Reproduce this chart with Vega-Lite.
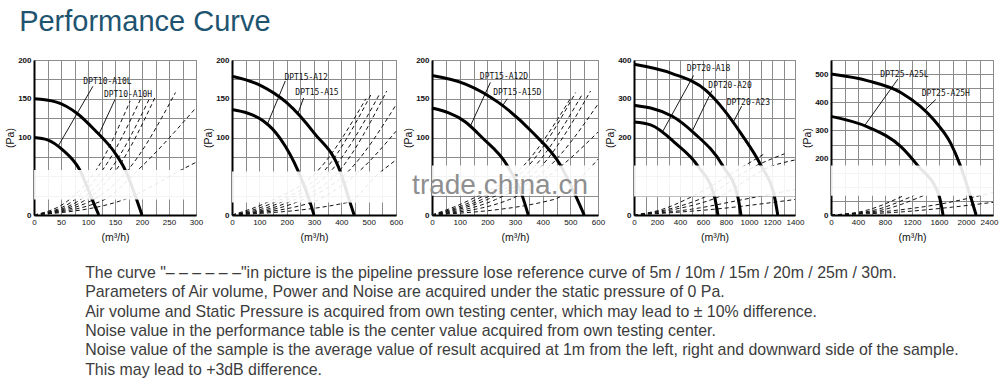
{
  "$schema": "https://vega.github.io/schema/vega-lite/v6.json",
  "background": "white",
  "padding": {"left": 5, "top": 7, "right": 0, "bottom": 0},
  "title": {"text": "Performance Curve", "anchor": "start", "frame": "bounds", "font": "Liberation Sans", "fontSize": 29, "fontWeight": "normal", "color": "#1e5470", "dx": 14, "dy": 2, "offset": 21},
  "datasets": {
    "curves": [
      {"panel": 1, "name": "A10H", "q": 0, "p": 150}, {"panel": 1, "name": "A10H", "q": 40, "p": 146}, {"panel": 1, "name": "A10H", "q": 80, "p": 131}, {"panel": 1, "name": "A10H", "q": 112, "p": 110}, {"panel": 1, "name": "A10H", "q": 150, "p": 80}, {"panel": 1, "name": "A10H", "q": 169, "p": 58}, {"panel": 1, "name": "A10H", "q": 191, "p": 18}, {"panel": 1, "name": "A10H", "q": 200, "p": 0},
      {"panel": 1, "name": "A10L", "q": 0, "p": 100}, {"panel": 1, "name": "A10L", "q": 25, "p": 97}, {"panel": 1, "name": "A10L", "q": 53, "p": 84}, {"panel": 1, "name": "A10L", "q": 84, "p": 59}, {"panel": 1, "name": "A10L", "q": 109, "p": 18}, {"panel": 1, "name": "A10L", "q": 120, "p": 0},
      {"panel": 2, "name": "A15", "q": 0, "p": 179}, {"panel": 2, "name": "A15", "q": 100, "p": 168}, {"panel": 2, "name": "A15", "q": 200, "p": 145}, {"panel": 2, "name": "A15", "q": 300, "p": 106}, {"panel": 2, "name": "A15", "q": 396, "p": 56}, {"panel": 2, "name": "A15", "q": 432, "p": 16}, {"panel": 2, "name": "A15", "q": 447, "p": 0},
      {"panel": 2, "name": "A12", "q": 0, "p": 136}, {"panel": 2, "name": "A12", "q": 116, "p": 121}, {"panel": 2, "name": "A12", "q": 176, "p": 99}, {"panel": 2, "name": "A12", "q": 243, "p": 56}, {"panel": 2, "name": "A12", "q": 286, "p": 16}, {"panel": 2, "name": "A12", "q": 300, "p": 0},
      {"panel": 3, "name": "A15D", "q": 0, "p": 180}, {"panel": 3, "name": "A15D", "q": 121, "p": 169}, {"panel": 3, "name": "A15D", "q": 241, "p": 145}, {"panel": 3, "name": "A15D", "q": 362, "p": 107}, {"panel": 3, "name": "A15D", "q": 465, "p": 64}, {"panel": 3, "name": "A15D", "q": 519, "p": 25}, {"panel": 3, "name": "A15D", "q": 550, "p": 0},
      {"panel": 3, "name": "A12D", "q": 0, "p": 138}, {"panel": 3, "name": "A12D", "q": 121, "p": 120}, {"panel": 3, "name": "A12D", "q": 181, "p": 100}, {"panel": 3, "name": "A12D", "q": 272, "p": 64}, {"panel": 3, "name": "A12D", "q": 326, "p": 25}, {"panel": 3, "name": "A12D", "q": 348, "p": 0},
      {"panel": 4, "name": "A23", "q": 0, "p": 389}, {"panel": 4, "name": "A23", "q": 333, "p": 365}, {"panel": 4, "name": "A23", "q": 623, "p": 322}, {"panel": 4, "name": "A23", "q": 780, "p": 272}, {"panel": 4, "name": "A23", "q": 931, "p": 210}, {"panel": 4, "name": "A23", "q": 1105, "p": 127}, {"panel": 4, "name": "A23", "q": 1221, "p": 48}, {"panel": 4, "name": "A23", "q": 1250, "p": 0},
      {"panel": 4, "name": "A20", "q": 0, "p": 283}, {"panel": 4, "name": "A20", "q": 333, "p": 255}, {"panel": 4, "name": "A20", "q": 520, "p": 212}, {"panel": 4, "name": "A20", "q": 772, "p": 127}, {"panel": 4, "name": "A20", "q": 902, "p": 48}, {"panel": 4, "name": "A20", "q": 930, "p": 0},
      {"panel": 4, "name": "A18", "q": 0, "p": 240}, {"panel": 4, "name": "A18", "q": 150, "p": 232}, {"panel": 4, "name": "A18", "q": 365, "p": 184}, {"panel": 4, "name": "A18", "q": 554, "p": 127}, {"panel": 4, "name": "A18", "q": 699, "p": 48}, {"panel": 4, "name": "A18", "q": 730, "p": 0},
      {"panel": 5, "name": "A25H", "q": 0, "p": 500}, {"panel": 5, "name": "A25H", "q": 549, "p": 476}, {"panel": 5, "name": "A25H", "q": 1039, "p": 434}, {"panel": 5, "name": "A25H", "q": 1529, "p": 336}, {"panel": 5, "name": "A25H", "q": 1774, "p": 254}, {"panel": 5, "name": "A25H", "q": 1915, "p": 176}, {"panel": 5, "name": "A25H", "q": 2063, "p": 69}, {"panel": 5, "name": "A25H", "q": 2150, "p": 0},
      {"panel": 5, "name": "A25L", "q": 0, "p": 350}, {"panel": 5, "name": "A25L", "q": 549, "p": 312}, {"panel": 5, "name": "A25L", "q": 1039, "p": 242}, {"panel": 5, "name": "A25L", "q": 1283, "p": 176}, {"panel": 5, "name": "A25L", "q": 1600, "p": 69}, {"panel": 5, "name": "A25L", "q": 1660, "p": 0}
    ],
    "pipes": [
      {"panel": 1, "id": "a", "q": 0, "p": 0}, {"panel": 1, "id": "a", "q": 62, "p": 18}, {"panel": 1, "id": "a", "q": 116, "p": 59}, {"panel": 1, "id": "a", "q": 178, "p": 147},
      {"panel": 1, "id": "b", "q": 0, "p": 0}, {"panel": 1, "id": "b", "q": 72, "p": 18}, {"panel": 1, "id": "b", "q": 128, "p": 59}, {"panel": 1, "id": "b", "q": 197, "p": 149},
      {"panel": 1, "id": "c", "q": 0, "p": 0}, {"panel": 1, "id": "c", "q": 82, "p": 18}, {"panel": 1, "id": "c", "q": 141, "p": 58}, {"panel": 1, "id": "c", "q": 213, "p": 149},
      {"panel": 1, "id": "d", "q": 0, "p": 0}, {"panel": 1, "id": "d", "q": 92, "p": 18}, {"panel": 1, "id": "d", "q": 153, "p": 59}, {"panel": 1, "id": "d", "q": 225, "p": 153},
      {"panel": 1, "id": "e", "q": 0, "p": 0}, {"panel": 1, "id": "e", "q": 105, "p": 18}, {"panel": 1, "id": "e", "q": 175, "p": 59}, {"panel": 1, "id": "e", "q": 262, "p": 158},
      {"panel": 1, "id": "f", "q": 0, "p": 0}, {"panel": 1, "id": "f", "q": 125, "p": 18}, {"panel": 1, "id": "f", "q": 194, "p": 59}, {"panel": 1, "id": "f", "q": 297, "p": 136},
      {"panel": 1, "id": "g", "q": 0, "p": 0}, {"panel": 1, "id": "g", "q": 159, "p": 18}, {"panel": 1, "id": "g", "q": 275, "p": 59}, {"panel": 1, "id": "g", "q": 300, "p": 68},
      {"panel": 2, "id": "a", "q": 0, "p": 0}, {"panel": 2, "id": "a", "q": 120, "p": 15}, {"panel": 2, "id": "a", "q": 316, "p": 58}, {"panel": 2, "id": "a", "q": 490, "p": 150},
      {"panel": 2, "id": "b", "q": 0, "p": 0}, {"panel": 2, "id": "b", "q": 145, "p": 15}, {"panel": 2, "id": "b", "q": 340, "p": 58}, {"panel": 2, "id": "b", "q": 511, "p": 157},
      {"panel": 2, "id": "c", "q": 0, "p": 0}, {"panel": 2, "id": "c", "q": 170, "p": 15}, {"panel": 2, "id": "c", "q": 365, "p": 58}, {"panel": 2, "id": "c", "q": 540, "p": 156},
      {"panel": 2, "id": "d", "q": 0, "p": 0}, {"panel": 2, "id": "d", "q": 195, "p": 15}, {"panel": 2, "id": "d", "q": 395, "p": 58}, {"panel": 2, "id": "d", "q": 566, "p": 160},
      {"panel": 2, "id": "e", "q": 0, "p": 0}, {"panel": 2, "id": "e", "q": 225, "p": 15}, {"panel": 2, "id": "e", "q": 430, "p": 58}, {"panel": 2, "id": "e", "q": 600, "p": 142},
      {"panel": 2, "id": "f", "q": 0, "p": 0}, {"panel": 2, "id": "f", "q": 280, "p": 15}, {"panel": 2, "id": "f", "q": 470, "p": 58}, {"panel": 2, "id": "f", "q": 600, "p": 108},
      {"panel": 2, "id": "g", "q": 0, "p": 0}, {"panel": 2, "id": "g", "q": 420, "p": 16}, {"panel": 2, "id": "g", "q": 535, "p": 53}, {"panel": 2, "id": "g", "q": 600, "p": 71},
      {"panel": 3, "id": "a", "q": 0, "p": 0}, {"panel": 3, "id": "a", "q": 140, "p": 20}, {"panel": 3, "id": "a", "q": 332, "p": 64}, {"panel": 3, "id": "a", "q": 500, "p": 150},
      {"panel": 3, "id": "b", "q": 0, "p": 0}, {"panel": 3, "id": "b", "q": 160, "p": 20}, {"panel": 3, "id": "b", "q": 350, "p": 64}, {"panel": 3, "id": "b", "q": 519, "p": 158},
      {"panel": 3, "id": "c", "q": 0, "p": 0}, {"panel": 3, "id": "c", "q": 180, "p": 20}, {"panel": 3, "id": "c", "q": 374, "p": 64}, {"panel": 3, "id": "c", "q": 545, "p": 157},
      {"panel": 3, "id": "d", "q": 0, "p": 0}, {"panel": 3, "id": "d", "q": 200, "p": 20}, {"panel": 3, "id": "d", "q": 398, "p": 64}, {"panel": 3, "id": "d", "q": 573, "p": 160},
      {"panel": 3, "id": "e", "q": 0, "p": 0}, {"panel": 3, "id": "e", "q": 230, "p": 20}, {"panel": 3, "id": "e", "q": 428, "p": 64}, {"panel": 3, "id": "e", "q": 600, "p": 143},
      {"panel": 3, "id": "f", "q": 0, "p": 0}, {"panel": 3, "id": "f", "q": 280, "p": 20}, {"panel": 3, "id": "f", "q": 470, "p": 64}, {"panel": 3, "id": "f", "q": 600, "p": 107},
      {"panel": 3, "id": "g", "q": 0, "p": 0}, {"panel": 3, "id": "g", "q": 440, "p": 20}, {"panel": 3, "id": "g", "q": 567, "p": 59}, {"panel": 3, "id": "g", "q": 600, "p": 72},
      {"panel": 4, "id": "a", "q": 0, "p": 0}, {"panel": 4, "id": "a", "q": 250, "p": 15}, {"panel": 4, "id": "a", "q": 480, "p": 44}, {"panel": 4, "id": "a", "q": 960, "p": 127}, {"panel": 4, "id": "a", "q": 1134, "p": 158},
      {"panel": 4, "id": "b", "q": 0, "p": 0}, {"panel": 4, "id": "b", "q": 300, "p": 15}, {"panel": 4, "id": "b", "q": 597, "p": 44}, {"panel": 4, "id": "b", "q": 1061, "p": 127}, {"panel": 4, "id": "b", "q": 1308, "p": 158},
      {"panel": 4, "id": "c", "q": 0, "p": 0}, {"panel": 4, "id": "c", "q": 360, "p": 15}, {"panel": 4, "id": "c", "q": 713, "p": 44}, {"panel": 4, "id": "c", "q": 1206, "p": 127}, {"panel": 4, "id": "c", "q": 1400, "p": 142},
      {"panel": 4, "id": "d", "q": 0, "p": 0}, {"panel": 4, "id": "d", "q": 500, "p": 15}, {"panel": 4, "id": "d", "q": 950, "p": 40}, {"panel": 4, "id": "d", "q": 1400, "p": 66},
      {"panel": 4, "id": "e", "q": 0, "p": 0}, {"panel": 4, "id": "e", "q": 700, "p": 15}, {"panel": 4, "id": "e", "q": 1400, "p": 40},
      {"panel": 5, "id": "a", "q": 0, "p": 0}, {"panel": 5, "id": "a", "q": 500, "p": 15}, {"panel": 5, "id": "a", "q": 1088, "p": 70},
      {"panel": 5, "id": "b", "q": 0, "p": 0}, {"panel": 5, "id": "b", "q": 600, "p": 15}, {"panel": 5, "id": "b", "q": 1234, "p": 70},
      {"panel": 5, "id": "c", "q": 0, "p": 0}, {"panel": 5, "id": "c", "q": 700, "p": 15}, {"panel": 5, "id": "c", "q": 1380, "p": 70},
      {"panel": 5, "id": "d", "q": 0, "p": 0}, {"panel": 5, "id": "d", "q": 900, "p": 15}, {"panel": 5, "id": "d", "q": 1600, "p": 38}, {"panel": 5, "id": "d", "q": 2400, "p": 80},
      {"panel": 5, "id": "e", "q": 0, "p": 0}, {"panel": 5, "id": "e", "q": 1100, "p": 12}, {"panel": 5, "id": "e", "q": 1800, "p": 28}, {"panel": 5, "id": "e", "q": 2400, "p": 45}
    ],
    "labels": [
      {"panel": 1, "text": "DPT10-A10L", "q": 136, "p": 172}, {"panel": 1, "text": "DPT10-A10H", "q": 174, "p": 155},
      {"panel": 2, "text": "DPT15-A12", "q": 271, "p": 177}, {"panel": 2, "text": "DPT15-A15", "q": 311, "p": 158},
      {"panel": 3, "text": "DPT15-A12D", "q": 260, "p": 178}, {"panel": 3, "text": "DPT15-A15D", "q": 308, "p": 157},
      {"panel": 4, "text": "DPT20-A18", "q": 648, "p": 378}, {"panel": 4, "text": "DPT20-A20", "q": 835, "p": 334}, {"panel": 4, "text": "DPT20-A23", "q": 994, "p": 290},
      {"panel": 5, "text": "DPT25-A25L", "q": 1088, "p": 496}, {"panel": 5, "text": "DPT25-A25H", "q": 1700, "p": 428}
    ],
    "leaders": [
      {"panel": 1, "q": 109, "p": 166, "q2": 44, "p2": 88}, {"panel": 1, "q": 150, "p": 149, "q2": 120, "p2": 104},
      {"panel": 2, "q": 195, "p": 173, "q2": 128, "p2": 116}, {"panel": 2, "q": 262, "p": 151, "q2": 240, "p2": 130},
      {"panel": 3, "q": 211, "p": 171, "q2": 139, "p2": 115}, {"panel": 3, "q": 272, "p": 150, "q2": 255, "p2": 141},
      {"panel": 4, "q": 518, "p": 360, "q2": 245, "p2": 213}, {"panel": 4, "q": 677, "p": 321, "q2": 504, "p2": 215}, {"panel": 4, "q": 936, "p": 281, "q2": 864, "p2": 240},
      {"panel": 5, "q": 990, "p": 482, "q2": 500, "p2": 318}, {"panel": 5, "q": 1553, "p": 410, "q2": 1380, "p2": 370}
    ],
    "bands": [
      {"panel": 1, "q": 0, "q2": 300, "p": 20, "p2": 58},
      {"panel": 2, "q": 0, "q2": 600, "p": 16, "p2": 56},
      {"panel": 3, "q": 0, "q2": 600, "p": 25, "p2": 64},
      {"panel": 4, "q": 0, "q2": 1400, "p": 48, "p2": 128},
      {"panel": 5, "q": 0, "q2": 2400, "p": 68, "p2": 176}
    ],
    "watermark": [
      {"panel": 3, "text": "trade.china.cn", "q": 246, "p": 38}
    ]
  },
  "vconcat": [
    {
      "title": {
        "text": [
          "The curve \"– – – – – –\"in picture is the pipeline pressure lose reference curve of 5m / 10m / 15m / 20m / 25m / 30m.",
          "Parameters of Air volume, Power and Noise are acquired under the static pressure of 0 Pa.",
          "Air volume and Static Pressure is acquired from own testing center, which may lead to  ± 10% difference.",
          "Noise value in the performance table is the center value acquired from own testing center.",
          "Noise value of the sample is the average value of result acquired at 1m from the left, right and downward side of the sample.",
          "This may lead to +3dB difference."
        ],
        "orient": "bottom", "anchor": "start", "frame": "bounds", "baseline": "top",
        "font": "Liberation Sans", "fontSize": 15.9, "fontWeight": "normal", "color": "#3c3c3c",
        "lineHeight": 19.3, "dx": 80, "offset": 22
      },
      "spacing": 36,
      "bounds": "flush",
      "hconcat": [
        {
          "width": 162, "height": 155,
          "encoding": {
            "x": {"field": "q", "type": "quantitative", "title": "(m³/h)", "scale": {"domain": [0, 300], "nice": false}, "axis": {"format": "d", "values": [0, 25, 50, 75, 100, 125, 150, 175, 200, 225, 250, 275, 300], "labelExpr": "datum.value % 50 == 0 ? datum.label : ''"}},
            "y": {"field": "p", "type": "quantitative", "title": "(Pa)", "scale": {"domain": [0, 200], "nice": false}, "axis": {"format": "d", "values": [0, 25, 50, 75, 100, 125, 150, 175, 200], "labelExpr": "indexof([0, 100, 150, 200], datum.value) >= 0 ? datum.label : ''"}}
          },
          "layer": [
            {"data": {"name": "pipes"}, "transform": [{"filter": "datum.panel == 1"}], "mark": {"type": "line", "interpolate": "monotone", "strokeDash": [4, 3], "strokeWidth": 1, "color": "#111"}, "encoding": {"detail": {"field": "id"}}},
            {"data": {"name": "curves"}, "transform": [{"filter": "datum.panel == 1"}], "mark": {"type": "line", "interpolate": "monotone", "strokeWidth": 3, "color": "#000"}, "encoding": {"detail": {"field": "name"}}},
            {"data": {"name": "leaders"}, "transform": [{"filter": "datum.panel == 1"}], "mark": {"type": "rule", "strokeWidth": 0.9, "color": "#000"}, "encoding": {"x2": {"field": "q2"}, "y2": {"field": "p2"}}},
            {"data": {"name": "labels"}, "transform": [{"filter": "datum.panel == 1"}], "mark": {"type": "text", "font": "DejaVu Sans Mono", "fontSize": 8, "color": "#111"}, "encoding": {"text": {"field": "text"}}},
            {"data": {"name": "bands"}, "transform": [{"filter": "datum.panel == 1"}], "mark": {"type": "rect", "color": "white", "opacity": 0.9}, "encoding": {"x2": {"field": "q2"}, "y2": {"field": "p2"}}}
          ]
        },
        {
          "width": 164, "height": 155,
          "encoding": {
            "x": {"field": "q", "type": "quantitative", "title": "(m³/h)", "scale": {"domain": [0, 600], "nice": false}, "axis": {"format": "d", "values": [0, 50, 100, 150, 200, 250, 300, 350, 400, 450, 500, 550, 600], "labelExpr": "datum.value % 100 == 0 ? datum.label : ''"}},
            "y": {"field": "p", "type": "quantitative", "title": "(Pa)", "scale": {"domain": [0, 200], "nice": false}, "axis": {"format": "d", "values": [0, 25, 50, 75, 100, 125, 150, 175, 200], "labelExpr": "indexof([0, 100, 150, 200], datum.value) >= 0 ? datum.label : ''"}}
          },
          "layer": [
            {"data": {"name": "pipes"}, "transform": [{"filter": "datum.panel == 2"}], "mark": {"type": "line", "interpolate": "monotone", "strokeDash": [4, 3], "strokeWidth": 1, "color": "#111"}, "encoding": {"detail": {"field": "id"}}},
            {"data": {"name": "curves"}, "transform": [{"filter": "datum.panel == 2"}], "mark": {"type": "line", "interpolate": "monotone", "strokeWidth": 3, "color": "#000"}, "encoding": {"detail": {"field": "name"}}},
            {"data": {"name": "leaders"}, "transform": [{"filter": "datum.panel == 2"}], "mark": {"type": "rule", "strokeWidth": 0.9, "color": "#000"}, "encoding": {"x2": {"field": "q2"}, "y2": {"field": "p2"}}},
            {"data": {"name": "labels"}, "transform": [{"filter": "datum.panel == 2"}], "mark": {"type": "text", "font": "DejaVu Sans Mono", "fontSize": 8, "color": "#111"}, "encoding": {"text": {"field": "text"}}},
            {"data": {"name": "bands"}, "transform": [{"filter": "datum.panel == 2"}], "mark": {"type": "rect", "color": "white", "opacity": 0.9}, "encoding": {"x2": {"field": "q2"}, "y2": {"field": "p2"}}}
          ]
        },
        {
          "width": 166, "height": 155,
          "encoding": {
            "x": {"field": "q", "type": "quantitative", "title": "(m³/h)", "scale": {"domain": [0, 600], "nice": false}, "axis": {"format": "d", "values": [0, 50, 100, 150, 200, 250, 300, 350, 400, 450, 500, 550, 600], "labelExpr": "datum.value % 100 == 0 ? datum.label : ''"}},
            "y": {"field": "p", "type": "quantitative", "title": "(Pa)", "scale": {"domain": [0, 200], "nice": false}, "axis": {"format": "d", "values": [0, 25, 50, 75, 100, 125, 150, 175, 200], "labelExpr": "indexof([0, 100, 150, 200], datum.value) >= 0 ? datum.label : ''"}}
          },
          "layer": [
            {"data": {"name": "pipes"}, "transform": [{"filter": "datum.panel == 3"}], "mark": {"type": "line", "interpolate": "monotone", "strokeDash": [4, 3], "strokeWidth": 1, "color": "#111"}, "encoding": {"detail": {"field": "id"}}},
            {"data": {"name": "curves"}, "transform": [{"filter": "datum.panel == 3"}], "mark": {"type": "line", "interpolate": "monotone", "strokeWidth": 3, "color": "#000"}, "encoding": {"detail": {"field": "name"}}},
            {"data": {"name": "leaders"}, "transform": [{"filter": "datum.panel == 3"}], "mark": {"type": "rule", "strokeWidth": 0.9, "color": "#000"}, "encoding": {"x2": {"field": "q2"}, "y2": {"field": "p2"}}},
            {"data": {"name": "labels"}, "transform": [{"filter": "datum.panel == 3"}], "mark": {"type": "text", "font": "DejaVu Sans Mono", "fontSize": 8, "color": "#111"}, "encoding": {"text": {"field": "text"}}},
            {"data": {"name": "bands"}, "transform": [{"filter": "datum.panel == 3"}], "mark": {"type": "rect", "color": "white", "opacity": 0.9}, "encoding": {"x2": {"field": "q2"}, "y2": {"field": "p2"}}},
            {"data": {"name": "watermark"}, "transform": [{"filter": "datum.panel == 3"}], "mark": {"type": "text", "font": "Liberation Sans", "fontSize": 28, "color": "#8f8f8f"}, "encoding": {"text": {"field": "text"}}}
          ]
        },
        {
          "width": 161, "height": 155,
          "encoding": {
            "x": {"field": "q", "type": "quantitative", "title": "(m³/h)", "scale": {"domain": [0, 1400], "nice": false}, "axis": {"format": "d", "values": [0, 100, 200, 300, 400, 500, 600, 700, 800, 900, 1000, 1100, 1200, 1300, 1400], "labelExpr": "datum.value % 200 == 0 ? datum.label : ''"}},
            "y": {"field": "p", "type": "quantitative", "title": "(Pa)", "scale": {"domain": [0, 400], "nice": false}, "axis": {"format": "d", "values": [0, 50, 100, 150, 200, 250, 300, 350, 400], "labelExpr": "indexof([0, 200, 300, 400], datum.value) >= 0 ? datum.label : ''"}}
          },
          "layer": [
            {"data": {"name": "pipes"}, "transform": [{"filter": "datum.panel == 4"}], "mark": {"type": "line", "interpolate": "monotone", "strokeDash": [4, 3], "strokeWidth": 1, "color": "#111"}, "encoding": {"detail": {"field": "id"}}},
            {"data": {"name": "curves"}, "transform": [{"filter": "datum.panel == 4"}], "mark": {"type": "line", "interpolate": "monotone", "strokeWidth": 3, "color": "#000"}, "encoding": {"detail": {"field": "name"}}},
            {"data": {"name": "leaders"}, "transform": [{"filter": "datum.panel == 4"}], "mark": {"type": "rule", "strokeWidth": 0.9, "color": "#000"}, "encoding": {"x2": {"field": "q2"}, "y2": {"field": "p2"}}},
            {"data": {"name": "labels"}, "transform": [{"filter": "datum.panel == 4"}], "mark": {"type": "text", "font": "DejaVu Sans Mono", "fontSize": 8, "color": "#111"}, "encoding": {"text": {"field": "text"}}},
            {"data": {"name": "bands"}, "transform": [{"filter": "datum.panel == 4"}], "mark": {"type": "rect", "color": "white", "opacity": 0.9}, "encoding": {"x2": {"field": "q2"}, "y2": {"field": "p2"}}}
          ]
        },
        {
          "width": 162, "height": 155,
          "encoding": {
            "x": {"field": "q", "type": "quantitative", "title": "(m³/h)", "scale": {"domain": [0, 2400], "nice": false}, "axis": {"format": "d", "values": [0, 200, 400, 600, 800, 1000, 1200, 1400, 1600, 1800, 2000, 2200, 2400], "labelExpr": "datum.value % 400 == 0 ? datum.label : ''", "labelOffset": {"condition": {"test": "datum.value == 2400", "value": -4}, "value": 0}}},
            "y": {"field": "p", "type": "quantitative", "title": "(Pa)", "scale": {"domain": [0, 550], "nice": false}, "axis": {"format": "d", "values": [0, 50, 100, 150, 200, 250, 300, 350, 400, 450, 500, 550], "labelExpr": "indexof([0, 200, 300, 400, 500], datum.value) >= 0 ? datum.label : ''"}}
          },
          "layer": [
            {"data": {"name": "pipes"}, "transform": [{"filter": "datum.panel == 5"}], "mark": {"type": "line", "interpolate": "monotone", "strokeDash": [4, 3], "strokeWidth": 1, "color": "#111"}, "encoding": {"detail": {"field": "id"}}},
            {"data": {"name": "curves"}, "transform": [{"filter": "datum.panel == 5"}], "mark": {"type": "line", "interpolate": "monotone", "strokeWidth": 3, "color": "#000"}, "encoding": {"detail": {"field": "name"}}},
            {"data": {"name": "leaders"}, "transform": [{"filter": "datum.panel == 5"}], "mark": {"type": "rule", "strokeWidth": 0.9, "color": "#000"}, "encoding": {"x2": {"field": "q2"}, "y2": {"field": "p2"}}},
            {"data": {"name": "labels"}, "transform": [{"filter": "datum.panel == 5"}], "mark": {"type": "text", "font": "DejaVu Sans Mono", "fontSize": 8, "color": "#111"}, "encoding": {"text": {"field": "text"}}},
            {"data": {"name": "bands"}, "transform": [{"filter": "datum.panel == 5"}], "mark": {"type": "rect", "color": "white", "opacity": 0.9}, "encoding": {"x2": {"field": "q2"}, "y2": {"field": "p2"}}}
          ]
        }
      ]
    }
  ],
  "config": {
    "font": "Liberation Sans",
    "view": {"stroke": "#8c8c8c", "strokeWidth": 1},
    "axis": {"grid": true, "gridColor": "#8c8c8c", "gridWidth": 1, "gridOpacity": 1, "domainColor": "#000", "domainWidth": 2, "ticks": false, "labelFont": "Liberation Sans", "labelFontSize": 8, "labelColor": "#111", "labelPadding": 3, "labelFlush": false, "labelOverlap": false, "titleFont": "Liberation Sans", "titleFontSize": 10.5, "titleFontWeight": "normal", "titleColor": "#111"},
    "axisY": {"titlePadding": 2, "labelFontWeight": "bold"},
    "axisX": {"titlePadding": 6}
  }
}
